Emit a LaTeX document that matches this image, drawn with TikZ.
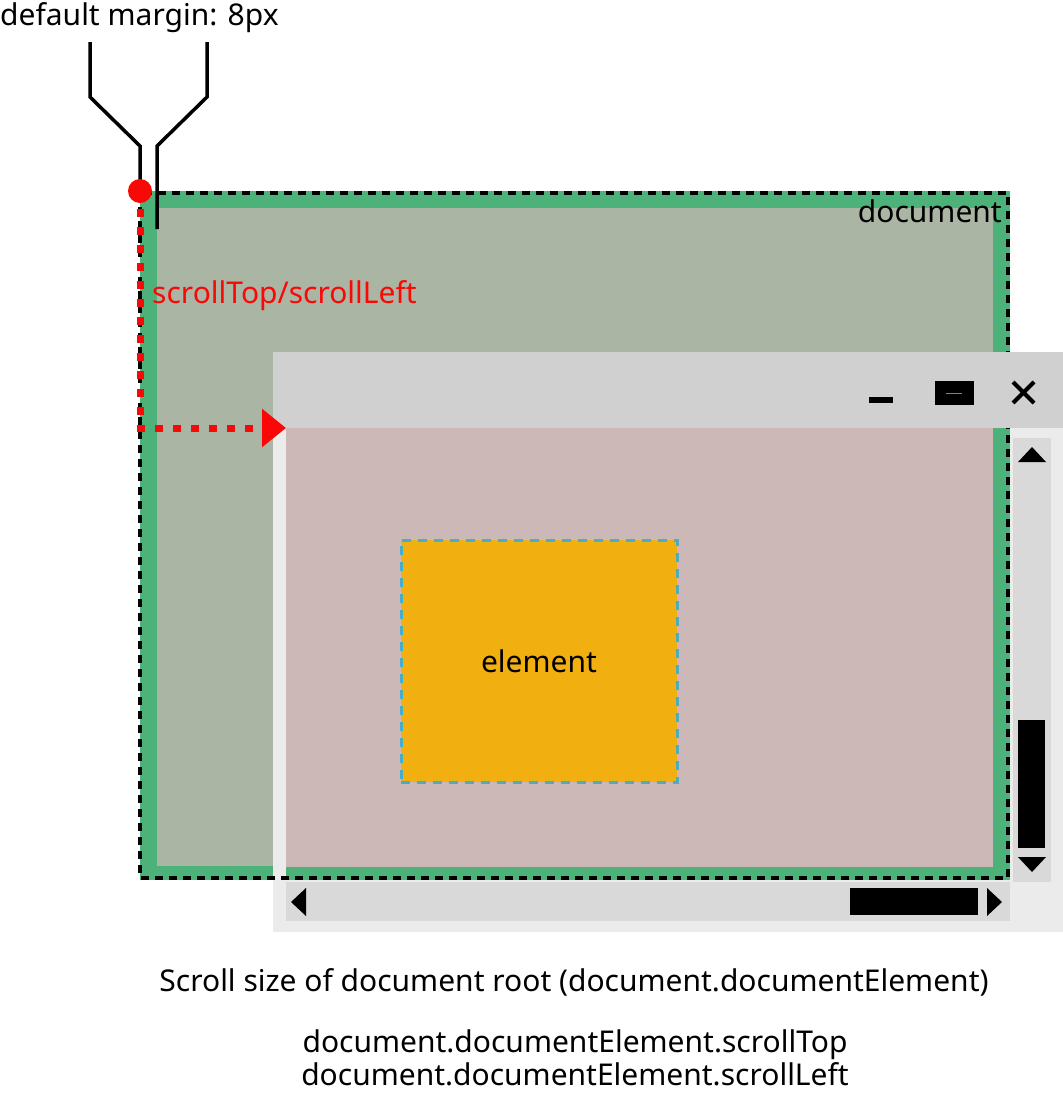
\documentclass[tikz,border=0pt]{standalone}
\usepackage{fontspec}
\setmainfont{Noto Sans}
\usetikzlibrary{positioning,arrows.meta}
\definecolor{docgreen}{RGB}{77,178,122}
\definecolor{docinner}{RGB}{171,181,163}
\definecolor{viewpink}{RGB}{203,184,183}
\definecolor{titlegray}{RGB}{208,208,208}
\definecolor{framegray}{RGB}{235,235,235}
\definecolor{trackgray}{RGB}{217,217,217}
\definecolor{elemorange}{RGB}{242,176,16}
\definecolor{elemcyan}{RGB}{75,172,198}
\definecolor{scrollred}{RGB}{250,8,8}
\begin{document}
\begin{tikzpicture}[x=1pt,y=-1pt,
  txt/.style={inner sep=0pt,font=\fontsize{30}{34}\selectfont},
  docline/.style={line width=4pt,dash pattern=on 8pt off 6pt},
  bracket/.style={line width=3.5pt},
  reddots/.style={scrollred,line width=7pt,dash pattern=on 8pt off 10pt},
  elembox/.style={draw=elemcyan,fill=elemorange,line width=3pt,dash pattern=on 9pt off 7pt,
    minimum width=276pt,minimum height=242pt,inner sep=0pt}]
\useasboundingbox (0,0) rectangle (1063,1093);

  \fill[docgreen] (140,191) rectangle (1010,880);
  \fill[docinner] (157,208) rectangle (993,866);

  \fill[framegray] (273,352) rectangle (1063,932);
  \fill[viewpink] (286,428) rectangle (993,867);
  \fill[docgreen] (993,428) rectangle (1010,880);
  \fill[docgreen] (286,867) rectangle (1010,880);
  \draw[docline] (140,193) rectangle (1008,878);
  \fill[titlegray] (273,352) rectangle (1063,428);

  \fill[trackgray] (1013,438) rectangle (1051,882);
  \fill[trackgray] (286,882) rectangle (1010,921);
  \fill (1018,462) -- (1032,447) -- (1046,462) -- cycle;
  \fill (1018,720) rectangle (1045,848);
  \fill (1018,857) -- (1032,872) -- (1046,857) -- cycle;
  \fill (306,888) -- (291,902) -- (306,916) -- cycle;
  \fill (850,888) rectangle (978,915);
  \fill (987,888) -- (1002,902) -- (987,916) -- cycle;

  \fill (869,397) rectangle (893,403);
  \fill (935,381) rectangle (974,405);
  \draw[gray,line width=0.6pt] (946,393) -- (962,393);
  \draw[line width=4pt] (1013,382) -- (1034,403) (1034,382) -- (1013,403);

  \draw (539,661) node[elembox,txt] (element) {element};
  \draw (1002,211) node[txt,anchor=east] (doclabel) {document};

  \draw[bracket] (90,42) -- (90,97) -- (140,146) -- (140,191);
  \draw[bracket] (207,42) -- (207,97) -- (157,146) -- (157,229);

  \coordinate (origin) at (140,191);
  \coordinate (bend) at (140,428);
  \coordinate (viewcorner) at (286,428);
  \draw[reddots,-{Triangle[length=24pt,width=37pt]}] (origin) -- (bend) -- (viewcorner);
  \fill[scrollred] (origin) circle (12pt);
  \draw (152,296) node[txt,scrollred,anchor=west] (scrolllabel) {scrollTop/scrollLeft};

  \draw (0,18) node[txt,anchor=west] (margin) {default margin: 8px};
  \draw (574,982) node[txt] (caption) {Scroll size of document root (document.documentElement)};
  \draw (575,1045) node[txt] (scrolltop) {document.documentElement.scrollTop};
  \draw (575,1074) node[txt] (scrollleft) {document.documentElement.scrollLeft};
\end{tikzpicture}
\end{document}
